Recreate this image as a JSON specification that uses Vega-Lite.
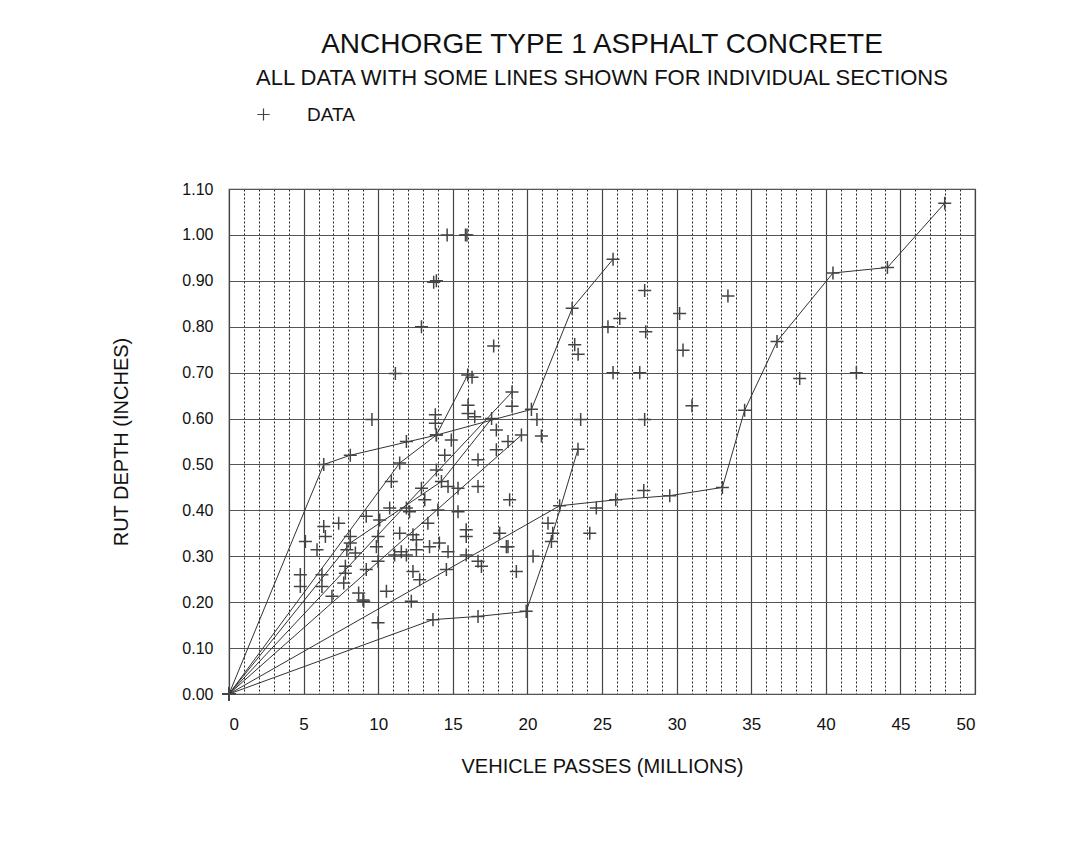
{
  "$schema": "https://vega.github.io/schema/vega-lite/v6.json",
  "width": 746,
  "height": 505,
  "autosize": {"type": "none"},
  "padding": {"left": 229, "top": 189, "right": 113, "bottom": 151},
  "background": "white",
  "config": {
    "view": {"stroke": "#444", "strokeWidth": 1.2},
    "font": "Liberation Sans"
  },
  "title": {
    "text": "ANCHORGE TYPE 1 ASPHALT CONCRETE",
    "subtitle": "ALL DATA WITH SOME LINES SHOWN FOR INDIVIDUAL SECTIONS",
    "anchor": "middle",
    "font": "Liberation Sans",
    "subtitleFont": "Liberation Sans",
    "fontSize": 28,
    "fontWeight": "normal",
    "subtitleFontSize": 22,
    "color": "#111",
    "subtitleColor": "#111",
    "offset": 16,
    "subtitlePadding": 9
  },
  "datasets": {
    "pts": [
      {"x": 0, "y": 0, "s": "A"}, {"x": 6.35, "y": 0.50, "s": "A"}, {"x": 8.13, "y": 0.52, "s": "A"}, {"x": 13.9, "y": 0.564, "s": "A"}, {"x": 20.27, "y": 0.62, "s": "A"}, {"x": 23.0, "y": 0.84, "s": "A"}, {"x": 25.74, "y": 0.947, "s": "A"},
      {"x": 0, "y": 0, "s": "F"}, {"x": 11.44, "y": 0.503, "s": "F"}, {"x": 13.9, "y": 0.564, "s": "F"}, {"x": 16.0, "y": 0.695, "s": "F"},
      {"x": 0, "y": 0, "s": "G"}, {"x": 8.13, "y": 0.329, "s": "G"}, {"x": 14.24, "y": 0.463, "s": "G"}, {"x": 17.6, "y": 0.60, "s": "G"},
      {"x": 0, "y": 0, "s": "H"}, {"x": 18.97, "y": 0.658, "s": "H"},
      {"x": 0, "y": 0, "s": "I"}, {"x": 19.6, "y": 0.564, "s": "I"},
      {"x": 0, "y": 0, "s": "D"}, {"x": 22.16, "y": 0.41, "s": "D"}, {"x": 25.92, "y": 0.423, "s": "D"}, {"x": 29.54, "y": 0.432, "s": "D"}, {"x": 33.07, "y": 0.45, "s": "D"}, {"x": 34.56, "y": 0.618, "s": "D"}, {"x": 36.73, "y": 0.768, "s": "D"}, {"x": 40.48, "y": 0.917, "s": "D"}, {"x": 44.13, "y": 0.929, "s": "D"}, {"x": 47.97, "y": 1.069, "s": "D"},
      {"x": 0, "y": 0, "s": "C"}, {"x": 13.67, "y": 0.162, "s": "C"}, {"x": 16.69, "y": 0.169, "s": "C"}, {"x": 19.92, "y": 0.18, "s": "C"}, {"x": 21.7, "y": 0.35, "s": "C"}, {"x": 23.39, "y": 0.533, "s": "C"},
      {"x": 7.35, "y": 0.372}, {"x": 6.35, "y": 0.365}, {"x": 6.46, "y": 0.343}, {"x": 5.12, "y": 0.332}, {"x": 5.9, "y": 0.314}, {"x": 8.13, "y": 0.343}, {"x": 8.47, "y": 0.307}, {"x": 4.78, "y": 0.26}, {"x": 4.78, "y": 0.234}, {"x": 6.23, "y": 0.26}, {"x": 6.23, "y": 0.234}, {"x": 7.8, "y": 0.278}, {"x": 7.8, "y": 0.263}, {"x": 7.69, "y": 0.242}, {"x": 6.9, "y": 0.213}, {"x": 8.69, "y": 0.22}, {"x": 9.03, "y": 0.202}, {"x": 7.9, "y": 0.314},
      {"x": 11.89, "y": 0.55}, {"x": 14.9, "y": 0.553}, {"x": 14.46, "y": 0.52}, {"x": 13.9, "y": 0.488}, {"x": 16.69, "y": 0.51}, {"x": 17.92, "y": 0.532}, {"x": 18.7, "y": 0.55}, {"x": 10.88, "y": 0.463}, {"x": 12.9, "y": 0.448}, {"x": 14.68, "y": 0.452}, {"x": 15.35, "y": 0.448}, {"x": 16.69, "y": 0.452}, {"x": 13.12, "y": 0.423}, {"x": 10.77, "y": 0.405}, {"x": 11.89, "y": 0.405}, {"x": 14.0, "y": 0.401}, {"x": 15.35, "y": 0.397}, {"x": 9.2, "y": 0.387}, {"x": 10.1, "y": 0.379}, {"x": 12.1, "y": 0.397}, {"x": 13.33, "y": 0.372}, {"x": 15.9, "y": 0.358}, {"x": 15.9, "y": 0.343}, {"x": 9.99, "y": 0.343}, {"x": 11.44, "y": 0.35}, {"x": 12.33, "y": 0.347}, {"x": 12.56, "y": 0.336}, {"x": 9.88, "y": 0.321}, {"x": 13.44, "y": 0.321}, {"x": 14.1, "y": 0.329}, {"x": 14.68, "y": 0.31}, {"x": 11.55, "y": 0.31}, {"x": 11.1, "y": 0.303}, {"x": 11.89, "y": 0.303}, {"x": 12.56, "y": 0.314}, {"x": 15.9, "y": 0.303}, {"x": 16.69, "y": 0.289}, {"x": 16.92, "y": 0.278}, {"x": 18.14, "y": 0.35}, {"x": 18.59, "y": 0.321}, {"x": 9.2, "y": 0.271}, {"x": 9.99, "y": 0.289}, {"x": 12.33, "y": 0.267}, {"x": 12.78, "y": 0.249}, {"x": 14.57, "y": 0.271}, {"x": 10.55, "y": 0.224}, {"x": 12.22, "y": 0.202}, {"x": 8.98, "y": 0.205}, {"x": 9.99, "y": 0.155}, {"x": 17.92, "y": 0.575},
      {"x": 14.62, "y": 1.0}, {"x": 15.85, "y": 1.0}, {"x": 15.95, "y": 1.0}, {"x": 13.72, "y": 0.897}, {"x": 13.9, "y": 0.9}, {"x": 12.9, "y": 0.80}, {"x": 17.74, "y": 0.758}, {"x": 11.15, "y": 0.698}, {"x": 16.29, "y": 0.69}, {"x": 18.97, "y": 0.627}, {"x": 16.02, "y": 0.629}, {"x": 16.02, "y": 0.611}, {"x": 16.47, "y": 0.604}, {"x": 13.83, "y": 0.608}, {"x": 13.83, "y": 0.59}, {"x": 9.58, "y": 0.598},
      {"x": 27.86, "y": 0.879}, {"x": 33.44, "y": 0.867}, {"x": 26.19, "y": 0.818}, {"x": 25.4, "y": 0.80}, {"x": 30.2, "y": 0.829}, {"x": 27.93, "y": 0.789}, {"x": 30.43, "y": 0.749}, {"x": 23.17, "y": 0.761}, {"x": 23.4, "y": 0.74}, {"x": 25.74, "y": 0.70}, {"x": 27.53, "y": 0.70}, {"x": 31.03, "y": 0.628}, {"x": 27.86, "y": 0.598}, {"x": 23.57, "y": 0.598}, {"x": 20.64, "y": 0.598}, {"x": 20.94, "y": 0.562},
      {"x": 18.81, "y": 0.423}, {"x": 24.62, "y": 0.405}, {"x": 27.8, "y": 0.443}, {"x": 21.38, "y": 0.372}, {"x": 21.61, "y": 0.332}, {"x": 24.18, "y": 0.35}, {"x": 18.7, "y": 0.321}, {"x": 20.38, "y": 0.30}, {"x": 19.26, "y": 0.267},
      {"x": 38.25, "y": 0.687}, {"x": 42.05, "y": 0.70}
    ]
  },
  "data": {"name": "pts"},
  "layer": [
    {
      "mark": {"type": "point", "opacity": 0},
      "encoding": {
        "x": {"field": "x", "type": "quantitative", "scale": {"domain": [0, 50], "nice": false, "zero": false},
          "axis": {"orient": "bottom", "values": [1,2,3,4,6,7,8,9,11,12,13,14,16,17,18,19,21,22,23,24,26,27,28,29,31,32,33,34,36,37,38,39,41,42,43,44,46,47,48,49],
            "grid": true, "gridDash": [2, 2], "gridColor": "#222", "gridWidth": 1, "gridOpacity": 1,
            "labels": false, "ticks": false, "domain": false, "title": null}},
        "y": {"field": "y", "type": "quantitative", "scale": {"domain": [0, 1.1], "nice": false, "zero": false},
          "axis": {"values": [0,0.1,0.2,0.3,0.4,0.5,0.6,0.7,0.8,0.9,1.0,1.1], "format": ".2f", "grid": true, "gridColor": "#555", "gridWidth": 1.2, "gridOpacity": 1,
            "ticks": false, "domain": false, "labelFontSize": 16, "labelColor": "#111", "labelPadding": 16, "labelFont": "Liberation Sans",
            "title": "RUT DEPTH (INCHES)", "titleFontSize": 20, "titleFontWeight": "normal", "titleColor": "#111", "titleFont": "Liberation Sans", "titlePadding": 50}}
      }
    },
    {
      "transform": [{"filter": "isValid(datum.s)"}],
      "mark": {"type": "line", "color": "#333", "strokeWidth": 1},
      "encoding": {
        "x": {"field": "x", "type": "quantitative", "scale": {"domain": [0, 50], "nice": false, "zero": false},
          "axis": {"orient": "bottom", "values": [0,5,10,15,20,25,30,35,40,45,50], "format": "d",
            "grid": true, "gridColor": "#444", "gridWidth": 1.2, "gridOpacity": 1,
            "ticks": false, "domain": false, "labelFontSize": 17, "labelColor": "#111", "labelPadding": 22, "labelFont": "Liberation Sans",
            "title": "VEHICLE PASSES (MILLIONS)", "titleFontSize": 20, "titleFontWeight": "normal", "titleColor": "#111", "titleFont": "Liberation Sans", "titlePadding": 24}},
        "y": {"field": "y", "type": "quantitative", "scale": {"domain": [0, 1.1], "nice": false, "zero": false}},
        "detail": {"field": "s"},
        "order": {"field": "x", "type": "quantitative"}
      }
    },
    {
      "mark": {"type": "point", "shape": "M-1,0L1,0M0,-1L0,1", "size": 170, "strokeWidth": 1.5, "filled": false, "opacity": 1},
      "encoding": {
        "x": {"field": "x", "type": "quantitative", "scale": {"domain": [0, 50], "nice": false, "zero": false}, "axis": null},
        "y": {"field": "y", "type": "quantitative", "scale": {"domain": [0, 1.1], "nice": false, "zero": false}},
        "color": {"datum": "DATA", "scale": {"range": ["#444"]},
          "legend": {"orient": "none", "legendX": 25, "legendY": -84, "title": null, "symbolType": "M-1,0L1,0M0,-1L0,1", "symbolSize": 150, "symbolStrokeWidth": 1.2, "symbolStrokeColor": "#666",
            "labelFontSize": 19, "labelColor": "#111", "labelFont": "Liberation Sans", "labelOffset": 34}}
      }
    }
  ],
  "resolve": {"axis": {"x": "independent"}}
}
